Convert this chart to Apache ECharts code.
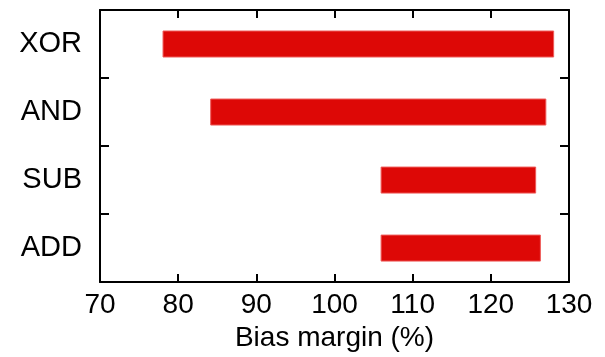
<!DOCTYPE html>
<html>
<head>
<meta charset="utf-8">
<script src="https://cdn.jsdelivr.net/npm/echarts@6/dist/echarts.min.js"></script>
<style>html,body{margin:0;padding:0;background:#fff;}#c{width:605px;height:357px;}</style>
</head>
<body>
<div id="c"></div>
<script>
const categories = ['ADD', 'SUB', 'AND', 'XOR'];
const barStart = [105.9, 105.9, 84.1, 78.0];
const barEnd = [126.4, 125.8, 127.1, 128.1];
const xTicks = [70, 80, 90, 100, 110, 120, 130];
const xName = 'Bias margin (%)';

const font = "'Liberation Sans', Arial, sans-serif";
const chart = echarts.init(document.getElementById('c'));
const axisLine = { show: true, lineStyle: { color: '#000', width: 2 } };
const xCommon = {
  type: 'value', min: xTicks[0], max: xTicks[xTicks.length - 1], interval: 10,
  axisLine: axisLine,
  axisTick: { show: true, inside: true, length: 8, lineStyle: { color: '#000', width: 2 } },
  splitLine: { show: false }
};
chart.setOption({
  animation: false,
  grid: { left: 100, right: 36, top: 10, bottom: 74, containLabel: false },
  xAxis: [
    Object.assign({}, xCommon, {
      position: 'bottom',
      axisLabel: { color: '#000', fontSize: 28, fontFamily: font, margin: 9 },
      name: xName, nameLocation: 'middle', nameGap: 40,
      nameTextStyle: { color: '#000', fontSize: 28, fontFamily: font }
    }),
    Object.assign({}, xCommon, { position: 'top', axisLabel: { show: false } })
  ],
  yAxis: [
    {
      type: 'category', data: categories, position: 'left',
      axisLine: axisLine,
      axisTick: { show: true, inside: true, length: 9, lineStyle: { color: '#000', width: 2 } },
      axisLabel: { color: '#000', fontSize: 29, fontFamily: font, margin: 18 }
    },
    {
      type: 'category', data: categories, position: 'right',
      axisLine: axisLine,
      axisTick: { show: true, inside: true, length: 9, lineStyle: { color: '#000', width: 2 } },
      axisLabel: { show: false }
    }
  ],
  series: [
    {
      type: 'bar', stack: 'r', barWidth: 27, silent: true,
      itemStyle: { color: 'transparent' },
      data: barStart
    },
    {
      type: 'bar', stack: 'r', barWidth: 27,
      itemStyle: { color: '#dd0806', borderColor: '#ee5a58', borderWidth: 1 },
      data: barEnd.map((e, i) => +(e - barStart[i]).toFixed(2))
    }
  ]
});
</script>
</body>
</html>
